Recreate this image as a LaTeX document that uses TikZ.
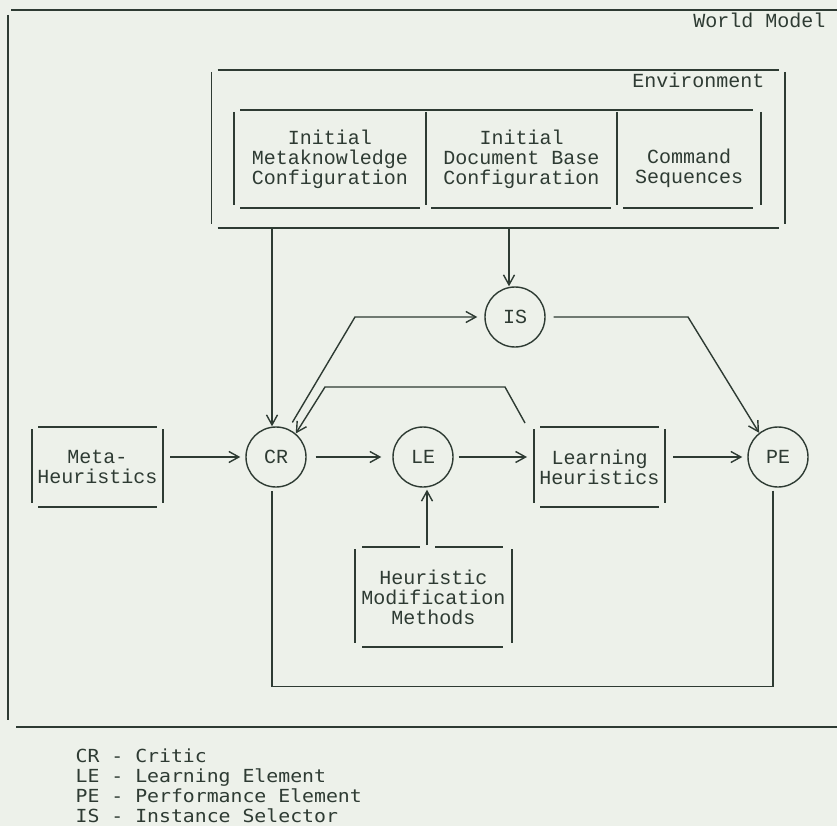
\documentclass[tikz,border=0pt]{standalone}
\usepackage{fontspec}
\setmonofont{Liberation Mono}
\newfontfamily\legendfont[FakeStretch=1.1]{DejaVu Sans Mono}
\usetikzlibrary{arrows.meta}
\definecolor{ink}{HTML}{2E3B33}
\definecolor{paper}{HTML}{EDF1EA}

\newcommand\twbox[1]{%
  \draw ([shift={(0,2)}]#1.north west) -- ([shift={(0,-4)}]#1.south west);
  \draw ([shift={(0,2)}]#1.north east) -- ([shift={(0,-4)}]#1.south east);
  \draw ([shift={(6,0)}]#1.north west) -- ([shift={(-6,0)}]#1.north east);
  \draw ([shift={(6,0)}]#1.south west) -- ([shift={(-6,0)}]#1.south east);
}

\tikzset{
  lbl/.style={font=\ttfamily\fontsize{20}{20}\selectfont, align=center, inner sep=0pt, text=ink},
  boxarea/.style={lbl, outer sep=0pt, rectangle},
  circ/.style={circle, draw=ink, minimum size=60pt, inner sep=0pt,
    font=\ttfamily\fontsize{20}{20}\selectfont, text=ink},
  arr/.style={-{Straight Barb[length=10pt,width=11pt]}},
}

\begin{document}
\begin{tikzpicture}[x=1pt, y=-1pt, line width=1.4pt, draw=ink, color=ink]
\fill[paper] (0,0) rectangle (837,826);
\useasboundingbox (0,0) rectangle (837,826);

% world model frame
\node[boxarea, minimum width=829pt, minimum height=717pt] (world) at (422.5,368.5) {};
\draw ([shift={(3,0)}]world.north west) -- (world.north east);
\draw ([shift={(0,5)}]world.north west) -- ([shift={(0,-7)}]world.south west);
\draw ([shift={(8,0)}]world.south west) -- (world.south east);
\node[lbl, anchor=east] (wmlabel) at (826,20) {World Model};

% environment
\node[boxarea, minimum width=573.5pt, minimum height=158pt] (env) at (498.25,149) {};
\twbox{env}
\node[lbl, anchor=east] (envlabel) at (765,80) {Environment};

\node[boxarea, minimum width=192pt, minimum height=98pt] (mk) at (330,159)
  {Initial\\Metaknowledge\\Configuration};
\node[boxarea, minimum width=191pt, minimum height=98pt] (db) at (521.5,159)
  {Initial\\Document Base\\Configuration};
\node[boxarea, minimum width=144pt, minimum height=98pt] (cs) at (689,159)
  {\vphantom{I}\\Command\\Sequences};
\draw ([shift={(6,0)}]mk.north west) -- ([shift={(-8,0)}]cs.north east);
\draw ([shift={(0,2)}]mk.north west) -- ([shift={(0,-3)}]mk.south west);
\draw ([shift={(0,2)}]mk.north east) -- ([shift={(0,-3)}]mk.south east);
\draw ([shift={(0,2)}]db.north east) -- ([shift={(0,-3)}]db.south east);
\draw ([shift={(0,2)}]cs.north east) -- ([shift={(0,-3)}]cs.south east);
\draw ([shift={(6,0)}]mk.south west) -- ([shift={(-6,0)}]mk.south east);
\draw ([shift={(5,0)}]db.south west) -- ([shift={(-6,0)}]db.south east);
\draw ([shift={(6,0)}]cs.south west) -- ([shift={(-8,0)}]cs.south east);

% boxes
\node[boxarea, minimum width=131pt, minimum height=80pt] (meta) at (97.5,467) {Meta-\\Heuristics};
\twbox{meta}
\node[boxarea, minimum width=131pt, minimum height=80pt] (lh) at (599.5,467) {Learning\\Heuristics};
\twbox{lh}
\node[boxarea, minimum width=157pt, minimum height=100pt] (hmm) at (433.5,597)
  {Heuristic\\Modification\\Methods};

% circles
\node[circ] (cr) at (276,457) {CR};
\node[circ] (le) at (423,457) {LE};
\node[circ] (is) at (515,317) {IS};
\node[circ] (pe) at (778,457) {PE};

% HMM box sides with gap for the arrow
\coordinate (lein) at ([xshift=4pt]le.south);
\path (lein |- hmm.north) coordinate (hmmgap);
\draw ([shift={(0,2)}]hmm.north west) -- ([shift={(0,-4)}]hmm.south west);
\draw ([shift={(0,2)}]hmm.north east) -- ([shift={(0,-4)}]hmm.south east);
\draw ([shift={(7,0)}]hmm.north west) -- ([xshift=-7pt]hmmgap);
\draw ([xshift=8pt]hmmgap) -- ([shift={(-9,0)}]hmm.north east);
\draw ([shift={(7,0)}]hmm.south west) -- ([shift={(-9,0)}]hmm.south east);

% connectors
\coordinate (crin) at ([xshift=-4pt]cr.north);
\coordinate (isin) at ([xshift=-6pt]is.north);
\draw[arr] (crin |- env.south) -- (crin);
\draw[arr] (isin |- env.south) -- (isin);

\draw[arr, shorten <=7pt, shorten >=5pt] (meta.east |- cr) -- (cr.west);
\draw[arr, shorten <=9pt, shorten >=11pt] (cr.east) -- (le.west);
\draw[arr, shorten <=5pt, shorten >=7pt] (le.east) -- (le.east -| lh.west);
\draw[arr, shorten <=8pt, shorten >=5pt] (pe.west -| lh.east) -- (pe.west);
\draw[arr, shorten >=2pt] ([shift={(0,-2)}]hmmgap) -- (lein);

% CR -> IS
\coordinate (k1) at (355,317);
\draw[arr] ([shift={(1,-8)}]cr.60) -- (k1) -- ([xshift=-7pt]is.west);
% LH -> CR
\coordinate (k2) at (505,387);
\coordinate (k3) at (325,387);
\draw[arr] ([shift={(-9,-4)}]lh.north west) -- (k2) -- (k3) -- (cr.50);
% IS -> PE
\coordinate (k4) at (688,317);
\draw[arr] ([xshift=8pt]is.east) -- (k4) -- (pe.128);
% PE -> CR feedback
\coordinate (peout) at ([shift={(-5,3)}]pe.south);
\coordinate (crout) at ([shift={(-4,3)}]cr.south);
\draw (peout) -- ++(0,196) -| (crout);

% legend
\node[anchor=north west, align=left, inner sep=0pt, text=ink,
  font=\legendfont\fontsize{18}{20}\selectfont] (legend) at (75,748)
  {CR - Critic\\LE - Learning Element\\PE - Performance Element\\IS - Instance Selector};
\end{tikzpicture}
\end{document}
